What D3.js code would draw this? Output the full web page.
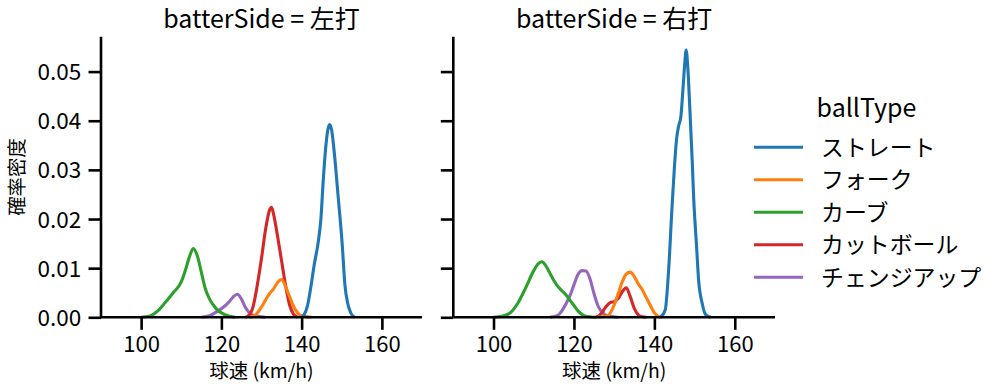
<!DOCTYPE html>
<html><head><meta charset="utf-8">
<script src="https://cdn.jsdelivr.net/npm/d3@7"></script>
<style>
html,body{margin:0;padding:0;background:#fff;}
svg text{font-family:"Noto Sans CJK JP","Noto Sans",sans-serif;fill:#000;}
</style></head>
<body><svg id="chart" width="999" height="391"></svg>
<script>
// ---- data ----
const panels = ["左打", "右打"];
const ballTypes = ["ストレート", "フォーク", "カーブ", "カットボール", "チェンジアップ"];
const colors = ["#1f77b4", "#ff7f0e", "#2ca02c", "#d62728", "#9467bd"];
const xTicks = [100, 120, 140, 160];
const yTicks = [0, 0.01, 0.02, 0.03, 0.04, 0.05];
const xDomain = [90, 170];
const yDomain = [0, 0.0571];

// [球速 km/h, 確率密度]
const leftStraight = [[139.8,0],[140.6,0.0005],[141.5,0.0025],[142.3,0.0062],[143.2,0.011],[144.1,0.0151],[144.8,0.02],[145.4,0.028],[146.0,0.0345],[146.5,0.038],[147.0,0.0392],[147.5,0.038],[148.2,0.033],[149.1,0.0246],[150.1,0.015],[150.8,0.0065],[151.5,0.0028],[152.3,0.0008],[153.3,0]];
const leftFork = [[127,0],[128,0.0002],[129,0.0009],[130,0.0021],[131,0.0035],[132,0.0048],[133,0.0058],[134,0.0071],[135,0.0077],[136,0.0063],[137,0.0042],[138,0.0022],[139,0.0009],[140,0.0003],[142.5,0]];
const leftCurve = [[100,0],[102,0.0002],[104,0.0012],[106,0.003],[108,0.005],[110,0.0072],[111,0.0095],[112,0.0122],[113,0.0140],[114,0.0125],[115,0.0092],[116,0.0058],[117,0.0038],[118,0.0025],[119,0.0015],[120,0.0009],[122,0.0002],[123.5,0]];
const leftCutter = [[126,0],[127,0.0005],[128,0.0025],[129,0.0068],[130,0.012],[131,0.0178],[132,0.0218],[132.5,0.0224],[133,0.021],[134,0.0165],[135,0.0115],[136,0.0065],[137,0.0025],[138,0.0006],[139,0]];
const leftChangeup = [[115,0],[117,0.0003],[119,0.0012],[121,0.0024],[122,0.0032],[123,0.0042],[124,0.0047],[125,0.0037],[126,0.002],[127,0.0009],[128,0.0004],[130,0.0001],[131,0]];

const rightStraight = [[141.5,0],[142.7,0.0015],[143.5,0.009],[144.4,0.0225],[145.0,0.0307],[145.5,0.0361],[146.0,0.0388],[146.6,0.0409],[147.1,0.0463],[147.5,0.051],[147.9,0.0544],[148.3,0.051],[148.8,0.0429],[149.4,0.032],[149.8,0.0239],[150.5,0.0144],[151.0,0.0076],[151.9,0.0028],[152.7,0.0006],[154,0]];
const rightFork = [[126,0],[128,0.0002],[129,0.0008],[130,0.0025],[131,0.0048],[132,0.0072],[133,0.0088],[134,0.0092],[135,0.0083],[136,0.0068],[137,0.0056],[138,0.004],[139,0.0024],[140,0.0009],[141,0.0002],[142,0]];
const rightCurve = [[100,0],[102,0.0002],[104,0.0008],[106,0.0028],[108,0.006],[110,0.0095],[111,0.0108],[112,0.0113],[113,0.0105],[114,0.009],[115,0.0075],[116,0.0063],[117,0.0054],[118,0.0046],[119,0.0035],[120,0.0024],[121,0.0013],[122,0.0006],[123,0.0002],[125,0]];
const rightCutter = [[125,0],[126,0.0002],[127,0.001],[128,0.0022],[129,0.003],[130,0.0032],[131,0.0038],[132,0.0052],[133,0.006],[134,0.0042],[135,0.0018],[136,0.0005],[137,0.0001],[138,0]];
const rightChangeup = [[114,0],[116,0.0004],[117,0.0013],[118,0.0027],[119,0.0044],[120,0.0066],[121,0.0087],[122,0.0095],[123,0.0094],[124,0.0078],[125,0.0048],[126,0.0023],[127,0.001],[128,0.0004],[129,0.0002],[131,0]];

const panelSeries = [
  [leftStraight, leftFork, leftCurve, leftCutter, leftChangeup],
  [rightStraight, rightFork, rightCurve, rightCutter, rightChangeup]
];

// ---- layout ----
const svg = d3.select("#chart");
const panelX = [[101, 422], [453.3, 775]];
const plotTop = 36.7, plotBottom = 317.3;
const y = d3.scaleLinear().domain(yDomain).range([plotBottom, plotTop]);
const lw = 2.6;

panels.forEach((p, i) => {
  const x = d3.scaleLinear().domain(xDomain).range(panelX[i]);
  const g = svg.append("g");
  const line = d3.line().x(d => x(d[0])).y(d => y(d[1])).curve(d3.curveMonotoneX);
  for (let k = ballTypes.length - 1; k >= 0; k--) {
    g.append("path").datum(panelSeries[i][k])
      .attr("d", line).attr("fill", "none")
      .attr("stroke", colors[k]).attr("stroke-width", 3.1)
      .attr("stroke-linejoin", "round").attr("stroke-linecap", "butt");
  }
  // x axis
  const xa = g.append("g").attr("transform", `translate(0,${plotBottom})`)
    .call(d3.axisBottom(x).tickValues(xTicks).tickSize(12.5).tickPadding(7).tickFormat(d3.format("d")));
  xa.select(".domain").attr("stroke", "#000").attr("stroke-width", lw)
    .attr("d", `M${panelX[i][0]},0H${panelX[i][1]}`);
  xa.selectAll(".tick line").attr("stroke", "#000").attr("stroke-width", lw);
  xa.selectAll(".tick text").attr("font-size", "22px").attr("dy", "0.72em").attr("y", 19);
  // y axis
  const ya = g.append("g").attr("transform", `translate(${panelX[i][0]},0)`)
    .call(d3.axisLeft(y).tickValues(yTicks).tickSize(12.5).tickPadding(7.3).tickFormat(d3.format(".2f")));
  ya.select(".domain").attr("stroke", "#000").attr("stroke-width", lw)
    .attr("d", `M0,${plotBottom}V${plotTop}`);
  ya.selectAll(".tick line").attr("stroke", "#000").attr("stroke-width", lw);
  ya.selectAll(".tick text").attr("font-size", "22.5px").attr("dy", "0.36em");
  if (i > 0) ya.selectAll(".tick text").remove();
  // title
  g.append("text").attr("x", (panelX[i][0] + panelX[i][1]) / 2).attr("y", 28)
    .attr("text-anchor", "middle").attr("font-size", "25px").text("batterSide = " + p);
  // x label
  g.append("text").attr("x", (panelX[i][0] + panelX[i][1]) / 2).attr("y", 377.5)
    .attr("text-anchor", "middle").attr("font-size", "19.4px").text("球速 (km/h)");
});

// y label
svg.append("text").attr("transform", `translate(24,${(plotTop + plotBottom) / 2}) rotate(-90)`)
  .attr("text-anchor", "middle").attr("font-size", "19.4px").text("確率密度");

// legend
const lg = svg.append("g");
lg.append("text").attr("x", 866.5).attr("y", 117).attr("text-anchor", "middle")
  .attr("font-size", "25px").text("ballType");
ballTypes.forEach((b, k) => {
  const ly = 147.3 + k * 32.5;
  lg.append("line").attr("x1", 754).attr("x2", 803).attr("y1", ly).attr("y2", ly)
    .attr("stroke", colors[k]).attr("stroke-width", 3.1);
  lg.append("text").attr("x", 821).attr("y", ly).attr("dy", "0.36em")
    .attr("font-size", "22.9px").text(b);
});
</script></body></html>
